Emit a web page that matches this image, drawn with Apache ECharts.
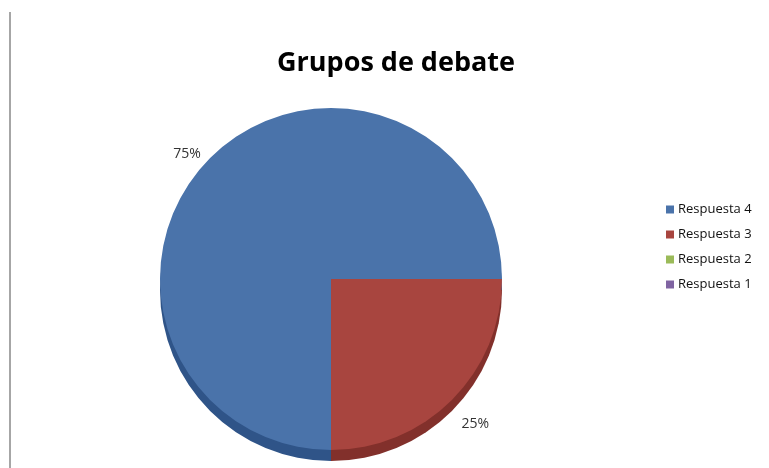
<!DOCTYPE html>
<html>
<head>
<meta charset="utf-8">
<script src="https://cdn.jsdelivr.net/npm/echarts@6/dist/echarts.min.js"></script>
<style>
  html, body { margin: 0; padding: 0; background: #fff; }
  #chart { width: 769px; height: 468px; }
</style>
</head>
<body>
<div id="chart"></div>
<script>
// datos
const categories = ['Respuesta 4', 'Respuesta 3', 'Respuesta 2', 'Respuesta 1'];
const values = [75, 25, 0, 0];
const colors = ['#4a73aa', '#a8453f', '#9bbb59', '#8064a2'];
const rimColors = ['#2f5488', '#82302b', '#7a9a40', '#604a80'];

const chart = echarts.init(document.getElementById('chart'));

// la etiqueta de abajo baja un poco por el canto 3D
const pieData = categories.map((name, i) => ({
    name,
    value: values[i],
    itemStyle: { color: colors[i] },
    label: i === 1 ? { offset: [4, 20] } : {},
}));
const rimData = categories.map((name, i) => ({ name, value: values[i], itemStyle: { color: rimColors[i] } }));

chart.setOption({
    animation: false,
    title: {
        text: 'Grupos de debate',
        left: 391,
        top: 45,
        textAlign: 'center',
        textStyle: { fontFamily: 'Open Sans', fontSize: 27, fontWeight: 'bold', color: '#000' },
    },
    legend: {
        orient: 'vertical',
        left: 661,
        top: 198,
        icon: 'rect',
        itemWidth: 8,
        itemHeight: 8,
        itemGap: 12,
        data: categories.map((name, i) => ({ name, itemStyle: { color: colors[i] } })),
        textStyle: { fontFamily: 'Open Sans', fontSize: 13, color: '#111', padding: [0, 0, 0, -1] },
    },
    graphic: [
        // borde izquierdo
        { type: 'line', shape: { x1: 10, y1: 12, x2: 10, y2: 468 }, style: { stroke: '#888', lineWidth: 1.5 } },
    ],
    series: [
        {
            // canto inferior (efecto 3D)
            type: 'pie',
            center: [331, 290],
            radius: 171,
            startAngle: 270,
            silent: true,
            label: { show: false },
            labelLine: { show: false },
            data: rimData,
            z: 1,
        },
        {
            name: 'Grupos de debate',
            type: 'pie',
            center: [331, 279],
            radius: 171,
            startAngle: 270,
            label: {
                show: true,
                position: 'outside',
                fontFamily: 'Open Sans',
                fontSize: 14,
                color: '#333',
                formatter: p => (p.value ? p.percent + '%' : ''),
            },
            labelLine: { show: false, length: 6, length2: 0 },
            data: pieData,
            z: 2,
        },
    ],
});
</script>
</body>
</html>
